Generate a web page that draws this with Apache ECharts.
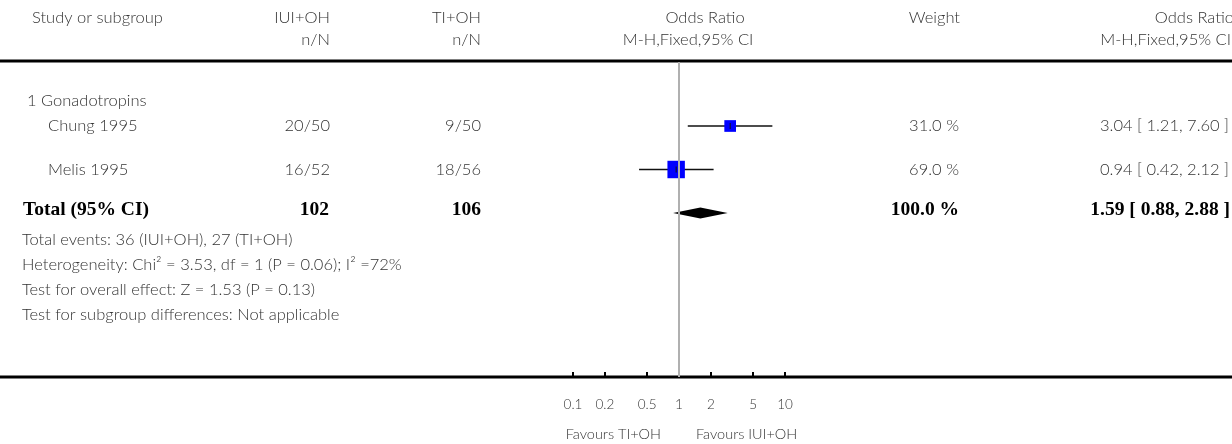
<!DOCTYPE html>
<html>
<head>
<meta charset="utf-8">
<script src="https://cdn.jsdelivr.net/npm/echarts@6/dist/echarts.min.js"></script>
<style>
  html, body { margin: 0; padding: 0; background: #fff; }
  #chart { width: 1232px; height: 444px; }
</style>
</head>
<body>
<div id="chart"></div>
<script>
// data
const subgroup = '1 Gonadotropins';
const studies = ['Chung 1995', 'Melis 1995'];
const iuiEvents = ['20/50', '16/52'];
const tiEvents = ['9/50', '18/56'];
const oddsRatio = [3.04, 0.94];
const ciLow = [1.21, 0.42];
const ciHigh = [7.60, 2.12];
const weights = [31.0, 69.0];
const totalLabel = 'Total (95% CI)';
const totalN = ['102', '106'];
const totalOR = [1.59, 0.88, 2.88]; // estimate, low, high
const totalWeight = 100.0;
const footnotes = [
  'Total events: 36 (IUI+OH), 27 (TI+OH)',
  'Heterogeneity: Chi² = 3.53, df = 1 (P = 0.06); I² =72%',
  'Test for overall effect: Z = 1.53 (P = 0.13)',
  'Test for subgroup differences: Not applicable'
];
const tickValues = [0.1, 0.2, 0.5, 1, 2, 5, 10];
const favours = ['Favours TI+OH', 'Favours IUI+OH'];

// layout
const W = 1232, H = 444;
const gridTop = 62, axisY = 377;
const firstRowY = 126, rowGap = 43.5;
const rowY = i => firstRowY + rowGap * i;
const yMin = -(firstRowY - gridTop) / rowGap;
const yMax = (axisY - firstRowY) / rowGap;

const font = '300 16.5px Lato, "Open Sans", sans-serif';
const smallFont = '300 14.5px Lato, sans-serif';
const boldFont = 'bold 19.5px "Liberation Serif", "DejaVu Serif", serif';
const grey = '#333';

const fmt = v => v.toFixed(2);
const ciText = (e, l, h) => fmt(e) + ' [ ' + fmt(l) + ', ' + fmt(h) + ' ]';

function txt(text, x, y, align, f, color) {
  return {
    type: 'text', x: x, y: y, silent: true,
    style: { text: text, font: f || font, fill: color || grey,
      textAlign: align || 'left', textVerticalAlign: 'middle' }
  };
}

const graphics = [
  { type: 'line', shape: { x1: 0, y1: 61, x2: W, y2: 61 }, style: { stroke: '#000', lineWidth: 3 } },
  { type: 'line', shape: { x1: 0, y1: axisY, x2: W, y2: axisY }, style: { stroke: '#000', lineWidth: 3 } },
  txt('Study or subgroup', 32, 18),
  txt('IUI+OH', 330, 18, 'right'),
  txt('n/N', 330, 40, 'right'),
  txt('TI+OH', 481, 18, 'right'),
  txt('n/N', 481, 40, 'right'),
  txt('Odds Ratio', 705, 18, 'center'),
  txt('M-H,Fixed,95% CI', 688, 40, 'center'),
  txt('Weight', 960, 18, 'right'),
  txt('Odds Ratio', 1234, 18, 'right'),
  txt('M-H,Fixed,95% CI', 1231, 40, 'right'),
  txt(subgroup, 27, 101),
  txt(favours[0], 661, 434, 'right', smallFont),
  txt(favours[1], 696, 434, 'left', smallFont)
];

studies.forEach((s, i) => {
  const y = rowY(i);
  graphics.push(txt(s, 48, y));
  graphics.push(txt(iuiEvents[i], 330, y, 'right'));
  graphics.push(txt(tiEvents[i], 481, y, 'right'));
  graphics.push(txt(weights[i].toFixed(1) + ' %', 959, y, 'right'));
  graphics.push(txt(ciText(oddsRatio[i], ciLow[i], ciHigh[i]), 1229, y, 'right'));
});

const ty = rowY(studies.length) - 3;
graphics.push(txt(totalLabel, 23, ty, 'left', boldFont, '#000'));
graphics.push(txt(totalN[0], 329, ty, 'right', boldFont, '#000'));
graphics.push(txt(totalN[1], 481, ty, 'right', boldFont, '#000'));
graphics.push(txt(totalWeight.toFixed(1) + ' %', 959, ty, 'right', boldFont, '#000'));
graphics.push(txt(ciText(totalOR[0], totalOR[1], totalOR[2]), 1230, ty, 'right', boldFont, '#000'));

footnotes.forEach((f, i) => {
  graphics.push(txt(f, 22, 240 + 25 * i));
});

const studyData = studies.map((s, i) => [oddsRatio[i], i, ciLow[i], ciHigh[i], weights[i]]);
const totalData = [[totalOR[0], studies.length, totalOR[1], totalOR[2]]];

const chart = echarts.init(document.getElementById('chart'));
chart.setOption({
  animation: false,
  graphic: graphics,
  grid: { left: 573, right: W - 785, top: gridTop, bottom: H - axisY, containLabel: false },
  xAxis: {
    type: 'log', logBase: 10, min: 0.1, max: 10, position: 'bottom',
    axisLine: { show: false, onZero: false },
    splitLine: { show: false },
    axisTick: {
      show: true, inside: true, length: 5, customValues: tickValues,
      lineStyle: { color: '#000', width: 2 }
    },
    axisLabel: {
      customValues: tickValues, margin: 21,
      color: grey, fontSize: 13.5, fontWeight: 300, fontFamily: 'Lato, sans-serif',
      formatter: v => String(v)
    }
  },
  yAxis: {
    type: 'value', inverse: true, min: yMin, max: yMax,
    show: false
  },
  series: [
    {
      type: 'custom',
      data: studyData,
      renderItem(params, api) {
        const p = api.coord([api.value(0), api.value(1)]);
        const lo = api.coord([api.value(2), api.value(1)]);
        const hi = api.coord([api.value(3), api.value(1)]);
        const size = 2.1 * Math.sqrt(api.value(4));
        return {
          type: 'group',
          children: [
            { type: 'line', shape: { x1: lo[0], y1: p[1], x2: hi[0], y2: p[1] },
              style: { stroke: '#111', lineWidth: 1.6 } },
            { type: 'rect', shape: { x: p[0] - size / 2, y: p[1] - size / 2, width: size, height: size },
              style: { fill: '#0000ff' } },
            { type: 'line', shape: { x1: p[0], y1: p[1] - 3, x2: p[0], y2: p[1] + 3 },
              style: { stroke: '#111', lineWidth: 1 } }
          ]
        };
      },
      markLine: {
        silent: true, symbol: 'none', label: { show: false },
        lineStyle: { color: '#b0b0b0', width: 2, type: 'solid' },
        data: [{ xAxis: 1 }]
      },
      z: 3
    },
    {
      type: 'custom',
      data: totalData,
      renderItem(params, api) {
        const p = api.coord([api.value(0), api.value(1)]);
        const lo = api.coord([api.value(2), api.value(1)]);
        const hi = api.coord([api.value(3), api.value(1)]);
        const h = 5.5;
        return {
          type: 'polygon',
          shape: { points: [[lo[0], p[1]], [p[0], p[1] - h], [hi[0], p[1]], [p[0], p[1] + h]] },
          style: { fill: '#000' }
        };
      },
      z: 4
    }
  ]
});
</script>
</body>
</html>
